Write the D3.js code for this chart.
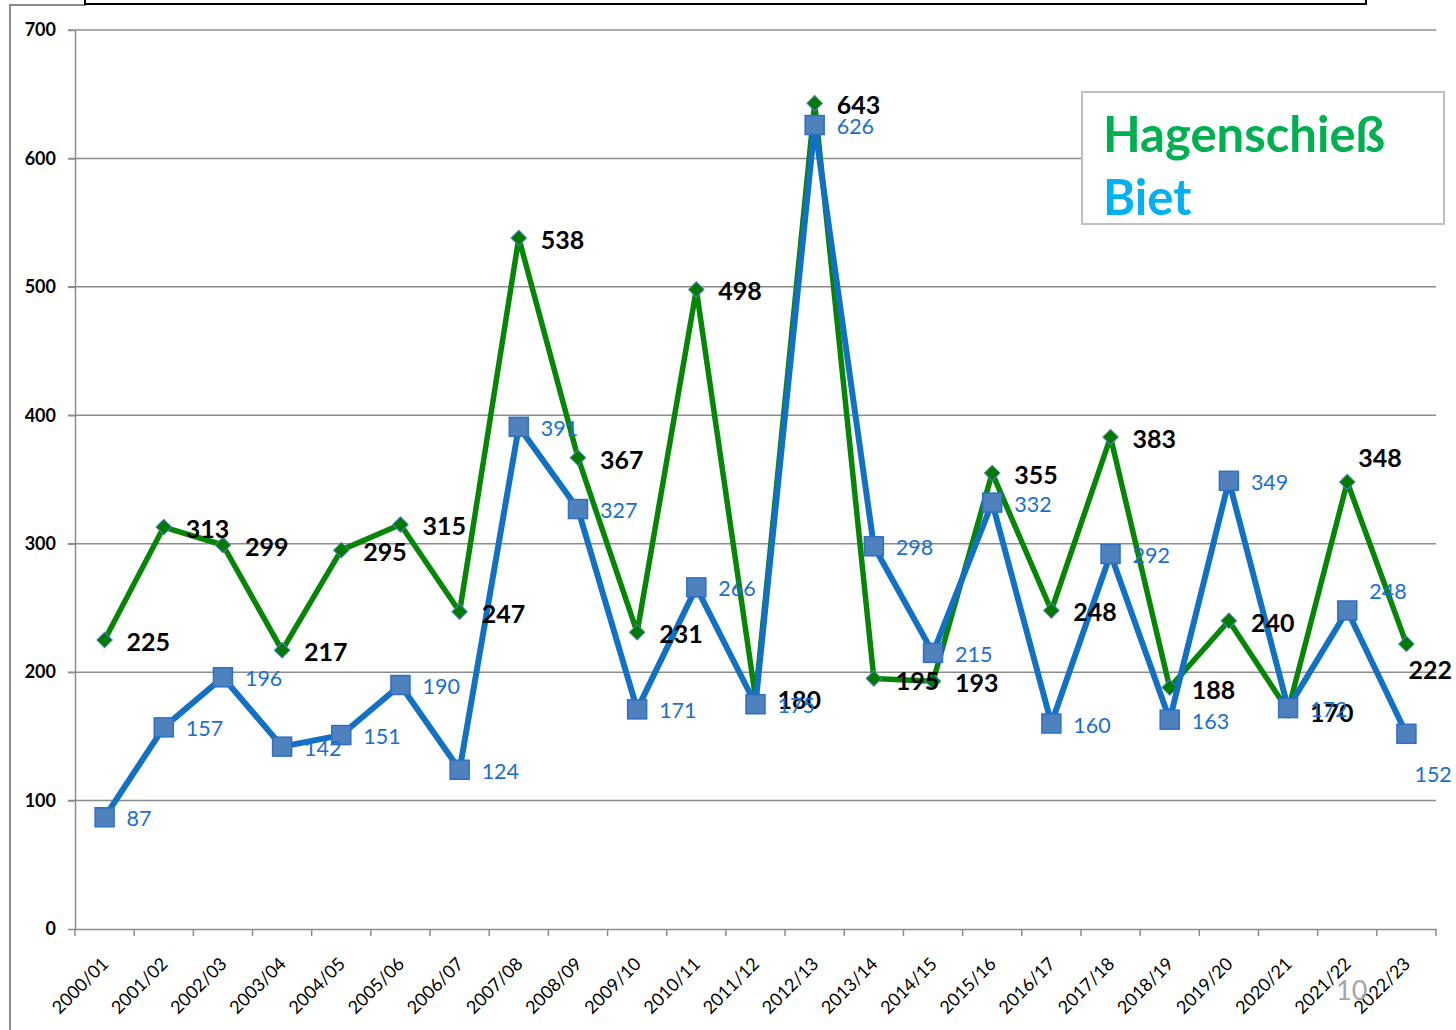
<!DOCTYPE html>
<html>
<head>
<meta charset="utf-8">
<script src="https://cdn.jsdelivr.net/npm/d3@7"></script>
<style>
  body { margin: 0; background: #fff; }
  text { font-family: Lato, "Open Sans", sans-serif; }
</style>
</head>
<body>
<script>
const seasons = ["2000/01","2001/02","2002/03","2003/04","2004/05","2005/06","2006/07","2007/08",
  "2008/09","2009/10","2010/11","2011/12","2012/13","2013/14","2014/15","2015/16","2016/17",
  "2017/18","2018/19","2019/20","2020/21","2021/22","2022/23"];
const hagenschiess = [225,313,299,217,295,315,247,538,367,231,498,180,643,195,193,355,248,383,188,240,170,348,222];
const biet = [87,157,196,142,151,190,124,391,327,171,266,175,626,298,215,332,160,292,163,349,172,248,152];
const yTicks = [0,100,200,300,400,500,600,700];

function render() {
  const w = 1456, h = 1030;
  const left = 75, right = 1436, top = 30, bottom = 929;

  const svg = d3.select("body").append("svg")
    .attr("width", w)
    .attr("height", h);

  const x = d3.scaleBand().domain(seasons).range([left, right]);
  const y = d3.scaleLinear().domain([0, 700]).range([bottom, top]);
  const cx = d => x(d) + x.bandwidth() / 2;

  // outer frame and cut-off title box
  svg.append("path")
    .attr("d", "M10,1030 L10,5 L86,5")
    .attr("fill", "none").attr("stroke", "#8c8c8c").attr("stroke-width", 2);
  svg.append("rect")
    .attr("x", 85).attr("y", -10).attr("width", 1281).attr("height", 14)
    .attr("fill", "#fff").attr("stroke", "#000").attr("stroke-width", 2);

  // gridlines
  svg.append("g").selectAll("line")
    .data(yTicks.filter(t => t > 0))
    .enter().append("line")
    .attr("x1", left - 7).attr("x2", right)
    .attr("y1", d => y(d)).attr("y2", d => y(d))
    .attr("stroke", "#8c8c8c").attr("stroke-width", 1.5);

  // y axis
  const yAxis = d3.axisLeft(y).tickValues(yTicks).tickSizeInner(7).tickSizeOuter(0).tickPadding(12);
  const gy = svg.append("g")
    .attr("transform", "translate(" + left + ",0)")
    .call(yAxis);
  gy.select(".domain").attr("stroke", "#8c8c8c").attr("stroke-width", 1.5);
  gy.selectAll(".tick line").attr("stroke", "#8c8c8c").attr("stroke-width", 1.5);
  gy.selectAll("text")
    .attr("font-size", "18px").attr("font-weight", "bold").attr("fill", "#000")
    .attr("font-family", "Lato");

  // x axis
  const xAxis = d3.axisBottom(x).tickSize(0).tickPadding(0);
  const gx = svg.append("g")
    .attr("transform", "translate(0," + bottom + ")")
    .call(xAxis);
  gx.select(".domain").attr("stroke", "#8c8c8c").attr("stroke-width", 1.5);
  gx.selectAll(".tick text")
    .attr("font-size", "18px").attr("fill", "#000").attr("font-family", "Lato")
    .attr("text-anchor", "end")
    .attr("dy", 0).attr("y", 0)
    .attr("transform", "translate(5,36) rotate(-45)");

  // x boundary ticks
  svg.append("g").selectAll("line")
    .data(seasons.map(s => x(s)).concat([right]))
    .enter().append("line")
    .attr("x1", d => d).attr("x2", d => d)
    .attr("y1", bottom).attr("y2", bottom + 7)
    .attr("stroke", "#8c8c8c").attr("stroke-width", 1.5);

  const line = d3.line()
    .x((d, i) => cx(seasons[i]))
    .y(d => y(d));

  // green series
  svg.append("path")
    .datum(hagenschiess)
    .attr("d", line)
    .attr("fill", "none").attr("stroke", "#078507").attr("stroke-width", 5.5)
    .attr("stroke-linejoin", "round");

  svg.append("g").selectAll("path")
    .data(hagenschiess)
    .enter().append("path")
    .attr("d", d3.symbol().type(d3.symbolSquare).size(120))
    .attr("transform", (d, i) => "translate(" + cx(seasons[i]) + "," + y(d) + ") rotate(45)")
    .attr("fill", "#007a00").attr("stroke", "#4f81bd").attr("stroke-width", 1);

  // blue series
  svg.append("path")
    .datum(biet)
    .attr("d", line)
    .attr("fill", "none").attr("stroke", "#1271c3").attr("stroke-width", 6)
    .attr("stroke-linejoin", "round");

  svg.append("g").selectAll("rect")
    .data(biet)
    .enter().append("rect")
    .attr("x", (d, i) => cx(seasons[i]) - 9.5)
    .attr("y", d => y(d) - 9.5)
    .attr("width", 19).attr("height", 19)
    .attr("fill", "#4f81bd").attr("stroke", "#2f6fc6").attr("stroke-width", 1.5);

  // label nudges for crowded points at the right end
  const nudgeG = { 21: [-11, -26], 22: [-20, 24] };
  const nudgeB = { 21: [0, -20], 22: [-14, 39] };

  svg.append("g").selectAll("text")
    .data(hagenschiess)
    .enter().append("text")
    .attr("x", (d, i) => cx(seasons[i]) + 22 + (nudgeG[i] ? nudgeG[i][0] : 0))
    .attr("y", (d, i) => y(d) + 11 + (nudgeG[i] ? nudgeG[i][1] : 0))
    .attr("font-size", "25px").attr("font-weight", "bold").attr("fill", "#000")
    .text(d => d);

  svg.append("g").selectAll("text")
    .data(biet)
    .enter().append("text")
    .attr("x", (d, i) => cx(seasons[i]) + 22 + (nudgeB[i] ? nudgeB[i][0] : 0))
    .attr("y", (d, i) => y(d) + 9 + (nudgeB[i] ? nudgeB[i][1] : 0))
    .attr("font-size", "21.5px").attr("fill", "#1a6fce")
    .text(d => d);

  // legend box
  const lg = svg.append("g");
  lg.append("rect")
    .attr("x", 1082).attr("y", 92).attr("width", 362).attr("height", 132)
    .attr("fill", "#fff").attr("stroke", "#bfbfbf").attr("stroke-width", 2);
  lg.append("text")
    .attr("x", 1103).attr("y", 152)
    .attr("font-size", "49px").attr("font-weight", "bold").attr("fill", "#00b050")
    .text("Hagenschieß");
  lg.append("text")
    .attr("x", 1103).attr("y", 215)
    .attr("font-size", "49px").attr("font-weight", "bold").attr("fill", "#00b0f0")
    .text("Biet");

  // page number
  svg.append("text")
    .attr("x", 1336).attr("y", 1000)
    .attr("font-size", "27px").attr("fill", "#a6a6a6")
    .text("10");
}

render();
</script>
</body>
</html>
